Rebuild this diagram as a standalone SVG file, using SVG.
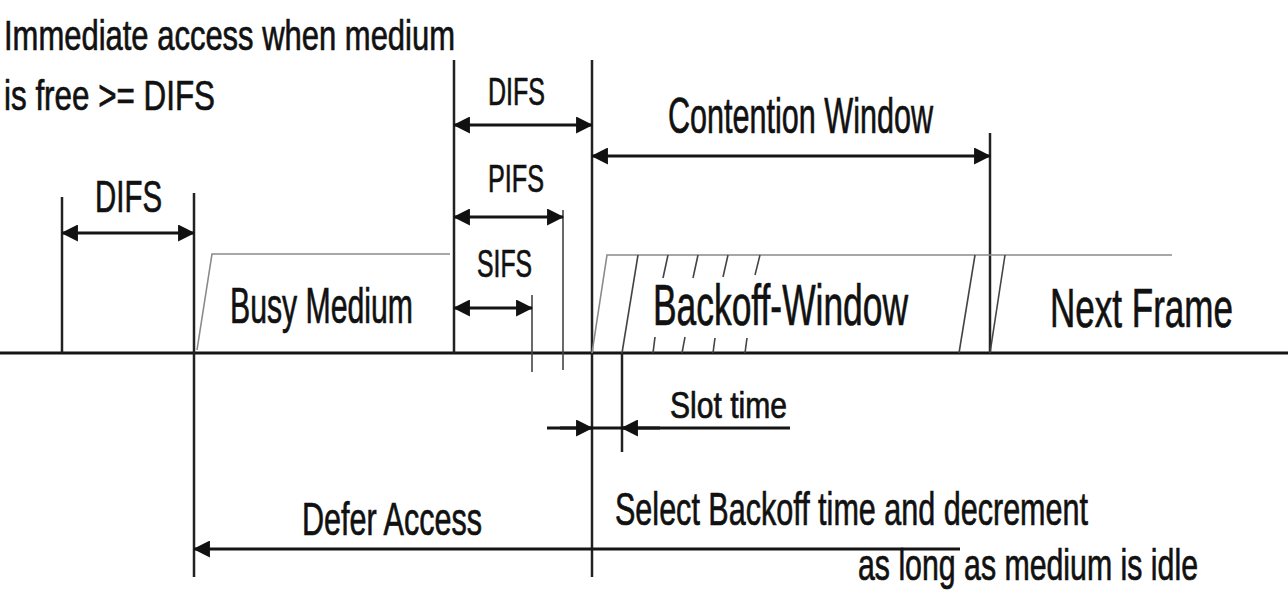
<svg xmlns="http://www.w3.org/2000/svg" width="1288" height="597" viewBox="0 0 1288 597">
<style>
text{font-family:"Liberation Sans",Arial,sans-serif;fill:#111;stroke:#111;stroke-width:0.7;}
.thick{stroke:#151515;stroke-width:3;fill:none;}
.mid{stroke:#222;stroke-width:2.5;fill:none;}
.thin{stroke:#444;stroke-width:1.6;fill:none;}
.grey{stroke:#8a8a8a;stroke-width:1.6;fill:none;}
.arr{stroke:#151515;stroke-width:3;fill:none;marker-end:url(#ah);}
.darr{stroke:#151515;stroke-width:3;fill:none;marker-start:url(#ah);marker-end:url(#ah);}
</style>
<defs>
<marker id="ah" viewBox="0 0 16 16" refX="15" refY="8" markerWidth="17" markerHeight="17" markerUnits="userSpaceOnUse" orient="auto-start-reverse">
<path d="M0,0 L16,8 L0,16 z" fill="#111"/>
</marker>
</defs>
<rect width="1288" height="597" fill="#fff"/>

<g id="axis">
<line class="thick" x1="0" y1="353" x2="1288" y2="353"/>
<line class="mid" x1="62" y1="197" x2="62" y2="353"/>
<line class="mid" x1="194" y1="193" x2="194" y2="577"/>
<line class="mid" x1="454" y1="60" x2="454" y2="353"/>
<line class="mid" x1="592" y1="60" x2="592" y2="577"/>
<line class="thin" x1="563" y1="210" x2="563" y2="370"/>
<line class="thin" x1="532" y1="295" x2="532" y2="372"/>
<line class="mid" x1="622" y1="353" x2="622" y2="452"/>
<line class="mid" x1="990" y1="133" x2="990" y2="353"/>
</g>

<g id="busy-medium">
<polyline class="grey" points="197,350 212,254 450,254"/>
<text x="230" y="323" font-size="50" textLength="183" lengthAdjust="spacingAndGlyphs">Busy Medium</text>
</g>

<g id="backoff-window">
<polyline class="grey" points="592,353 607,255 1172,255"/>
<line class="thin" x1="638" y1="255" x2="622" y2="353"/>
<line class="thin" x1="668" y1="255" x2="663" y2="278"/>
<line class="thin" x1="698" y1="255" x2="693" y2="278"/>
<line class="thin" x1="728" y1="255" x2="723" y2="277"/>
<line class="thin" x1="760" y1="255" x2="755" y2="275"/>
<line class="thin" x1="655" y1="337" x2="653" y2="353"/>
<line class="thin" x1="685" y1="337" x2="682" y2="353"/>
<line class="thin" x1="715" y1="338" x2="713" y2="353"/>
<line class="thin" x1="747" y1="338" x2="745" y2="353"/>
<line class="thin" x1="975" y1="255" x2="959" y2="353"/>
<line class="thin" x1="1005" y1="255" x2="990" y2="353"/>
<text x="653" y="325" font-size="58" textLength="255" lengthAdjust="spacingAndGlyphs">Backoff-Window</text>
</g>

<g id="next-frame">
<text x="1050" y="327" font-size="56" textLength="183" lengthAdjust="spacingAndGlyphs">Next Frame</text>
</g>

<g id="connectors">
<line class="darr" x1="62" y1="233" x2="194" y2="233"/>
<line class="darr" x1="454" y1="125" x2="592" y2="125"/>
<line class="darr" x1="454" y1="217" x2="563" y2="217"/>
<line class="darr" x1="454" y1="308" x2="532" y2="308"/>
<line class="darr" x1="592" y1="156" x2="990" y2="156"/>
<line class="thick" x1="547" y1="428" x2="790" y2="428"/>
<line class="arr" x1="560" y1="428" x2="592" y2="428"/>
<line class="arr" x1="660" y1="428" x2="622" y2="428"/>
<line class="arr" x1="960" y1="549" x2="194" y2="549"/>
</g>

<g id="labels">
<text x="4" y="50" font-size="42" textLength="451" lengthAdjust="spacingAndGlyphs">Immediate access when medium</text>
<text x="4" y="110" font-size="42" textLength="211" lengthAdjust="spacingAndGlyphs">is free &gt;= DIFS</text>
<text x="95" y="212" font-size="44" textLength="67" lengthAdjust="spacingAndGlyphs">DIFS</text>
<text x="488" y="105" font-size="38" textLength="57" lengthAdjust="spacingAndGlyphs">DIFS</text>
<text x="488" y="192" font-size="38" textLength="56" lengthAdjust="spacingAndGlyphs">PIFS</text>
<text x="477" y="277" font-size="38" textLength="55" lengthAdjust="spacingAndGlyphs">SIFS</text>
<text x="668" y="133" font-size="50" textLength="265" lengthAdjust="spacingAndGlyphs">Contention Window</text>
<text x="670" y="418" font-size="36" textLength="117" lengthAdjust="spacingAndGlyphs">Slot time</text>
<text x="302" y="535" font-size="46" textLength="180" lengthAdjust="spacingAndGlyphs">Defer Access</text>
<text x="615" y="525" font-size="46" textLength="473" lengthAdjust="spacingAndGlyphs">Select Backoff time and decrement</text>
<text x="858" y="580" font-size="44" textLength="340" lengthAdjust="spacingAndGlyphs">as long as medium is idle</text>
</g>
</svg>
